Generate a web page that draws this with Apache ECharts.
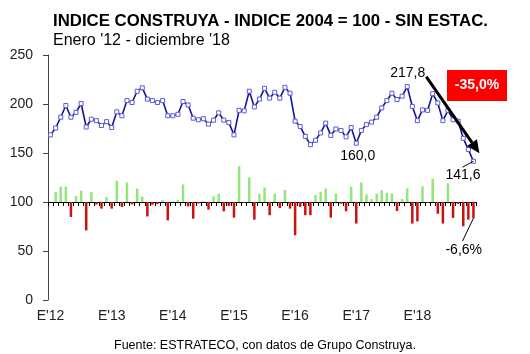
<!DOCTYPE html>
<html>
<head>
    <meta charset="utf-8"/>
    <title>Indice Construya</title>
    <script src="https://cdn.jsdelivr.net/npm/echarts@6/dist/echarts.min.js"></script>
    <style>
        html, body { margin: 0; padding: 0; background: #fff; }
        #main { width: 530px; height: 354px; }
    </style>
</head>
<body>
<div id="main"></div>
<script type="text/javascript">
    // datos
    var years = ['12', '13', '14', '15', '16', '17', '18'];
    var monthInitials = ['E', 'F', 'M', 'A', 'M', 'J', 'J', 'A', 'S', 'O', 'N', 'D'];
    var yearTicks = ["E'12", "E'13", "E'14", "E'15", "E'16", "E'17", "E'18"];

    // indice (2004 = 100), sin desestacionalizar
    var indice = [
        168.5, 175.5, 186.5, 198.5, 186.5, 191.5, 200.5, 176.5, 184.5, 183, 178, 182,
        176, 192, 188, 203.5, 201.5, 213, 216.5, 205, 203.5, 201.5, 203.5, 188,
        188, 189.5, 202.5, 199, 185.5, 184, 185, 179.5, 183.5, 191, 183.5, 181,
        168.5, 193.5, 193, 213, 197, 205, 216, 206, 212, 206, 217, 211,
        182.5, 177, 167, 158.5, 163, 170.5, 180.5, 168, 174.5, 173, 166.5, 176,
        160, 173, 179, 181.5, 186.5, 196, 203.5, 211, 204.5, 208, 217.8, 197.5,
        183, 194, 193.5, 210.5, 201, 183, 193.5, 184, 182.5, 165, 153.5, 141.6
    ];
    // variacion mensual (%)
    var variacion = [
        null, 4.0, 6.3, 6.3, -6.1, 2.5, 4.6, -11.6, 4.0, -1.0, -2.7, 2.0,
        -2.7, 8.7, -2.0, 8.0, -1.0, 5.5, 2.2, -5.9, -1.1, -0.8, 0.8, -7.5,
        0.2, 0.9, 7.2, -1.8, -6.8, -0.6, 0.4, -3.1, 2.3, 3.4, -3.8, -1.6,
        -6.4, 14.6, -0.3, 10.0, -7.2, 3.4, 5.9, -5.4, 3.3, -2.5, 4.9, -2.7,
        -13.6, -2.0, -5.4, -5.4, 2.9, 4.2, 5.5, -6.4, 3.4, -0.7, -3.8, 6.3,
        -8.8, 8.0, 3.1, 1.2, 3.3, 4.8, 3.8, 3.5, -3.7, 1.2, 5.6, -8.8,
        -7.9, 6.4, -0.4, 9.5, -4.8, -8.8, 7.6, -6.5, -0.8, -9.9, -7.2, -6.6
    ];

    var meses = [];
    years.forEach(function (y) {
        monthInitials.forEach(function (m) { meses.push(m + "'" + y); });
    });

    var font = "'Liberation Sans', Arial, sans-serif";
    var myChart = echarts.init(document.getElementById('main'));

    var option = {
        backgroundColor: '#fff',
        animation: false,
        title: [{
            text: 'INDICE CONSTRUYA - INDICE 2004 = 100 - SIN ESTAC.',
            subtext: "Enero '12 - diciembre '18",
            left: 48,
            top: 6,
            itemGap: 1,
            textStyle: { fontFamily: font, fontSize: 16.8, fontWeight: 'bold', color: '#000', lineHeight: 20 },
            subtextStyle: { fontFamily: font, fontSize: 16, color: '#000', lineHeight: 18 }
        }, {
            text: 'Fuente: ESTRATECO, con datos de Grupo Construya.',
            left: 'center',
            top: 334,
            textStyle: { fontFamily: font, fontSize: 12.5, fontWeight: 'normal', color: '#000' }
        }],
        grid: { left: 48, top: 55, width: 428, height: 245 },
        xAxis: [{
            type: 'category',
            data: meses,
            boundaryGap: true,
            axisLine: { onZero: true, onZeroAxisIndex: 1, lineStyle: { color: '#000', width: 1 } },
            axisTick: { show: true, interval: 0, length: 4, lineStyle: { color: '#000' } },
            axisLabel: { show: false },
            splitLine: { show: false }
        }, {
            type: 'category',
            data: meses,
            position: 'bottom',
            boundaryGap: true,
            axisLine: { show: false },
            axisTick: { show: false },
            axisLabel: {
                interval: 0,
                margin: 9,
                fontFamily: font,
                fontSize: 14,
                color: '#222',
                formatter: function (v, i) { return i % 12 === 0 ? yearTicks[i / 12] : ''; }
            }
        }],
        yAxis: [{
            type: 'value',
            min: 0,
            max: 250,
            interval: 50,
            axisLine: { show: true, lineStyle: { color: '#444', width: 1 } },
            axisTick: { show: true, length: 5, lineStyle: { color: '#444' } },
            axisLabel: { margin: 15, fontFamily: font, fontSize: 14, color: '#222' },
            splitLine: { show: false }
        }, {
            type: 'value',
            min: -40,
            max: 60,
            show: false,
            splitLine: { show: false }
        }],
        series: [{
            name: 'Variacion',
            type: 'bar',
            xAxisIndex: 0,
            yAxisIndex: 1,
            data: variacion,
            barWidth: 2.5,
            itemStyle: {
                color: function (p) { return p.value >= 0 ? '#94e67a' : '#cc1111'; }
            }
        }, {
            name: 'Indice',
            type: 'line',
            xAxisIndex: 0,
            yAxisIndex: 0,
            data: indice,
            symbol: 'rect',
            symbolSize: 4,
            showSymbol: true,
            showAllSymbol: true,
            lineStyle: { color: '#13139a', width: 1.6 },
            itemStyle: { color: '#fff', borderColor: '#5b5bd6', borderWidth: 1 },
            z: 5
        }]
    };
    myChart.setOption(option);

    // anotaciones
    var txt = { fontFamily: font, fontSize: 14, fill: '#000' };
    function px(i, v, yi) { return myChart.convertToPixel({ xAxisIndex: 0, yAxisIndex: yi }, [i, v]); }
    var iMax = 70, iMin = 60, iLast = 83;
    var pMax = px(iMax, indice[iMax], 0);
    var pMin = px(iMin, indice[iMin], 0);
    var pLast = px(iLast, indice[iLast], 0);
    var pBar = px(iLast, variacion[iLast], 1);

    var a0 = [pMax[0] + 19, pMax[1] - 10];
    var a1 = [pLast[0] + 6, pLast[1] - 8];
    var ang = Math.atan2(a1[1] - a0[1], a1[0] - a0[0]);
    var hl = 13, hw = 6;
    var base = [a1[0] - hl * Math.cos(ang), a1[1] - hl * Math.sin(ang)];
    var head = [a1,
        [base[0] + hw * Math.sin(ang), base[1] - hw * Math.cos(ang)],
        [base[0] - hw * Math.sin(ang), base[1] + hw * Math.cos(ang)]];

    myChart.setOption({
        graphic: [
            { type: 'text', x: pMax[0] - 17, y: pMax[1] - 20, style: Object.assign({ text: '217,8' }, txt), z: 10 },
            { type: 'text', x: pMin[0] - 16, y: pMin[1] + 6, style: Object.assign({ text: '160,0' }, txt), z: 10 },
            { type: 'line', shape: { x1: pLast[0], y1: pLast[1], x2: pLast[0] - 11, y2: pLast[1] + 6 }, style: { stroke: '#000', lineWidth: 1 }, z: 10 },
            { type: 'text', x: pLast[0] - 28, y: pLast[1] + 7, style: Object.assign({ text: '141,6' }, txt), z: 10 },
            { type: 'line', shape: { x1: pBar[0], y1: pBar[1], x2: pBar[0] - 11, y2: pBar[1] + 23 }, style: { stroke: '#000', lineWidth: 1 }, z: 10 },
            { type: 'text', x: pBar[0] - 28, y: pBar[1] + 25, style: Object.assign({ text: '-6,6%' }, txt), z: 10 },
            { type: 'line', shape: { x1: a0[0], y1: a0[1], x2: base[0], y2: base[1] }, style: { stroke: '#000', lineWidth: 3 }, z: 11 },
            { type: 'polygon', shape: { points: head }, style: { fill: '#000' }, z: 11 },
            { type: 'rect', shape: { x: 447, y: 70, width: 60, height: 31 }, style: { fill: '#ff0000' }, z: 10 },
            { type: 'text', x: 477, y: 85.5, style: { text: '-35,0%', fontFamily: font, fontSize: 14, fontWeight: 'bold', fill: '#fff', align: 'center', verticalAlign: 'middle' }, z: 11 }
        ]
    });
</script>
</body>
</html>
